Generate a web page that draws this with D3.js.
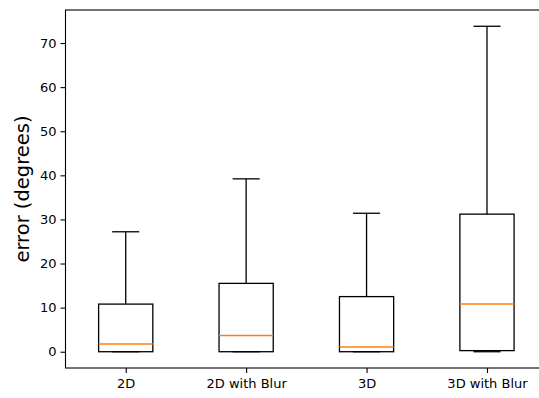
<!DOCTYPE html>
<html>
<head>
<meta charset="utf-8">
<script src="https://cdn.jsdelivr.net/npm/d3@7"></script>
<style>
  html, body { margin: 0; padding: 0; background: #fff; }
  svg { display: block; font-family: "DejaVu Sans", sans-serif; }
</style>
</head>
<body>
<svg id="chart" width="539" height="398"></svg>
<script>
// Box-plot summary statistics of angular error per condition
const categories = ["2D", "2D with Blur", "3D", "3D with Blur"];
const whiskerLow  = [0, 0, 0, 0];
const q1          = [0, 0, 0, 0.25];
const median      = [1.75, 3.7, 1.05, 10.8];
const q3          = [10.8, 15.5, 12.5, 31.2];
const whiskerHigh = [27.2, 39.2, 31.4, 73.8];
const yTicks = [0, 10, 20, 30, 40, 50, 60, 70];

const svg = d3.select("#chart");
const plotLeft = 65.5, plotTop = 10, plotBottom = 368, plotRight = 547.2;
const lw = 1.3;

// y domain: data extent padded by 5% on both sides
const lo = d3.min(whiskerLow), hi = d3.max(whiskerHigh);
const pad = (hi - lo) * 0.05;
const y = d3.scaleLinear().domain([lo - pad, hi + pad]).range([plotBottom, plotTop]);

const x = d3.scalePoint().domain(categories).range([plotLeft, plotRight]).padding(0.5);
const step = x.step();
const boxW = step * 0.45;
const capW = boxW * 0.5;

const data = categories.map((c, i) => ({
  c, lo: whiskerLow[i], q1: q1[i], med: median[i], q3: q3[i], hi: whiskerHigh[i]
}));

const g = svg.append("g");
const box = g.selectAll("g.box").data(data).join("g").attr("class", "box");

// whiskers
box.append("line")
  .attr("x1", d => x(d.c)).attr("x2", d => x(d.c))
  .attr("y1", d => y(d.q3)).attr("y2", d => y(d.hi))
  .attr("stroke", "#000").attr("stroke-width", lw);
box.append("line")
  .attr("x1", d => x(d.c)).attr("x2", d => x(d.c))
  .attr("y1", d => y(d.lo)).attr("y2", d => y(d.q1))
  .attr("stroke", "#000").attr("stroke-width", lw);
// caps
box.append("line")
  .attr("x1", d => x(d.c) - capW / 2).attr("x2", d => x(d.c) + capW / 2)
  .attr("y1", d => y(d.hi)).attr("y2", d => y(d.hi))
  .attr("stroke", "#000").attr("stroke-width", lw);
box.append("line")
  .attr("x1", d => x(d.c) - capW / 2).attr("x2", d => x(d.c) + capW / 2)
  .attr("y1", d => y(d.lo)).attr("y2", d => y(d.lo))
  .attr("stroke", "#000").attr("stroke-width", lw);
// boxes
box.append("rect")
  .attr("x", d => x(d.c) - boxW / 2).attr("width", boxW)
  .attr("y", d => y(d.q3)).attr("height", d => y(d.q1) - y(d.q3))
  .attr("fill", "none").attr("stroke", "#000").attr("stroke-width", lw);
// medians
box.append("line")
  .attr("x1", d => x(d.c) - boxW / 2).attr("x2", d => x(d.c) + boxW / 2)
  .attr("y1", d => y(d.med)).attr("y2", d => y(d.med))
  .attr("stroke", "#ff7f0e").attr("stroke-width", lw + 0.2);

// axes
const yAxis = d3.axisLeft(y).tickValues(yTicks).tickSize(5).tickPadding(4);
const xAxis = d3.axisBottom(x).tickSize(5).tickPadding(6);

const ya = svg.append("g").attr("transform", `translate(${plotLeft},0)`).call(yAxis);
const xa = svg.append("g").attr("transform", `translate(0,${plotBottom})`).call(xAxis);
[ya, xa].forEach(a => {
  a.select(".domain").remove();
  a.selectAll("text").attr("font-family", "DejaVu Sans, sans-serif")
    .attr("font-size", 13).attr("fill", "#000");
  a.selectAll("line").attr("stroke", "#000").attr("stroke-width", 1.1);
});

// frame
svg.append("rect")
  .attr("x", plotLeft).attr("y", plotTop)
  .attr("width", plotRight - plotLeft).attr("height", plotBottom - plotTop)
  .attr("fill", "none").attr("stroke", "#000").attr("stroke-width", 1.1);

// y label
svg.append("text")
  .attr("transform", `translate(29,${(plotTop + plotBottom) / 2}) rotate(-90)`)
  .attr("text-anchor", "middle")
  .attr("font-size", 19.5)
  .attr("fill", "#000")
  .text("error (degrees)");
</script>
</body>
</html>
